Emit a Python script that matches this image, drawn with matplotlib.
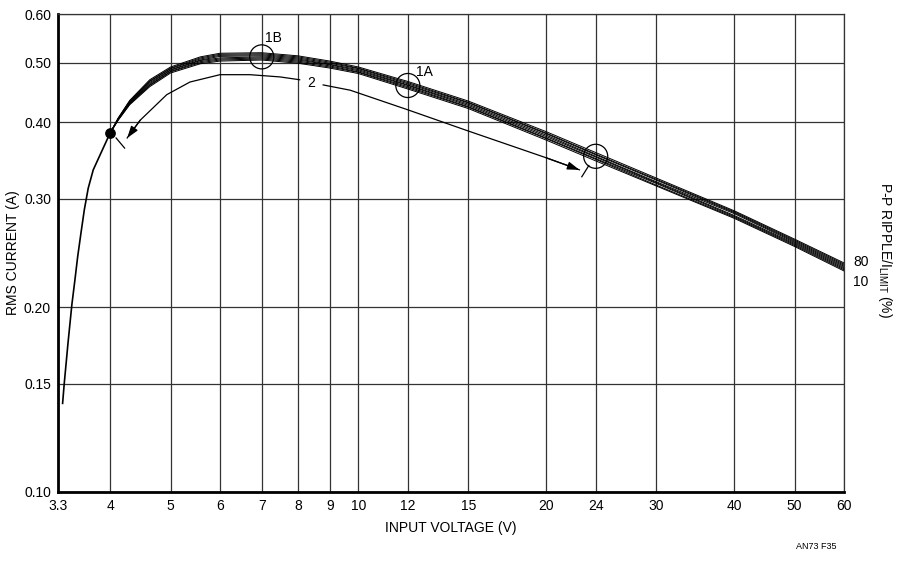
import matplotlib
matplotlib.use("Agg")
import matplotlib.pyplot as plt
from matplotlib.ticker import FixedLocator, NullLocator, FixedFormatter

plt.rcParams['font.family'] = ['Liberation Sans', 'DejaVu Sans']
plt.rcParams['mathtext.fontset'] = 'custom'
plt.rcParams['font.size'] = 10

# shared part of all curves (below 4V)
x_low = [3.357, 3.377, 3.425, 3.474, 3.513, 3.549, 3.592, 3.637, 3.69, 3.759, 3.88, 4.0]
y_low = [0.1394, 0.150, 0.175, 0.202, 0.2214, 0.2416, 0.2638, 0.288, 0.3124, 0.3346, 0.359, 0.384]

# ripple bundle, 80% (top) down to 10% (bottom)
x_bundle = [4.0, 4.12, 4.3, 4.63, 5, 5.58, 6, 7, 8, 9, 10, 12, 15, 20, 24, 30, 40, 50, 60]
ripple_curves = [
    [0.384, 0.406, 0.434, 0.469, 0.492, 0.511, 0.518, 0.519, 0.513, 0.503, 0.492, 0.466, 0.433, 0.386, 0.357, 0.3245, 0.287, 0.258, 0.236],
    [0.384, 0.406, 0.433, 0.467, 0.490, 0.509, 0.516, 0.517, 0.511, 0.501, 0.490, 0.464, 0.431, 0.384, 0.355, 0.323, 0.286, 0.257, 0.235],
    [0.384, 0.405, 0.432, 0.466, 0.489, 0.507, 0.514, 0.515, 0.509, 0.499, 0.489, 0.462, 0.430, 0.383, 0.354, 0.322, 0.285, 0.256, 0.234],
    [0.384, 0.405, 0.431, 0.464, 0.487, 0.505, 0.512, 0.513, 0.507, 0.497, 0.487, 0.460, 0.428, 0.381, 0.352, 0.320, 0.284, 0.255, 0.233],
    [0.384, 0.404, 0.430, 0.462, 0.486, 0.504, 0.509, 0.511, 0.505, 0.496, 0.485, 0.459, 0.426, 0.379, 0.351, 0.319, 0.282, 0.254, 0.232],
    [0.384, 0.404, 0.429, 0.460, 0.484, 0.502, 0.507, 0.509, 0.503, 0.494, 0.483, 0.457, 0.424, 0.377, 0.349, 0.318, 0.281, 0.253, 0.231],
    [0.384, 0.403, 0.428, 0.459, 0.483, 0.500, 0.505, 0.507, 0.501, 0.492, 0.482, 0.455, 0.423, 0.376, 0.348, 0.316, 0.280, 0.252, 0.230],
    [0.384, 0.403, 0.427, 0.457, 0.481, 0.498, 0.503, 0.505, 0.499, 0.490, 0.480, 0.453, 0.421, 0.374, 0.346, 0.315, 0.279, 0.251, 0.229],
]

# dimension curve "2" (two halves around the label)
x_dim_left = [4.26, 4.47, 4.93, 5.37, 6.0, 6.7, 7.49, 8.05]
y_dim_left = [0.377, 0.403, 0.4435, 0.465, 0.478, 0.478, 0.474, 0.469]
x_dim_right = [8.78, 9.7, 12, 15, 20, 22.6]
y_dim_right = [0.460, 0.451, 0.419, 0.387, 0.350, 0.3346]
tick_left = ([4.09, 4.22], [0.377, 0.363])
tick_right = ([22.8, 23.4], [0.326, 0.340])

# marked points
circle_x = [7, 12, 24]
circle_y = [0.511, 0.459, 0.352]
circle_labels = ['1B', '1A']
dot_x, dot_y = 4.0, 0.384

x_ticks = [3.3, 4, 5, 6, 7, 8, 9, 10, 12, 15, 20, 24, 30, 40, 50, 60]
x_ticklabels = ['3.3', '4', '5', '6', '7', '8', '9', '10', '12', '15', '20', '24', '30', '40', '50', '60']
y_ticks = [0.10, 0.15, 0.20, 0.30, 0.40, 0.50, 0.60]
y_ticklabels = ['0.10', '0.15', '0.20', '0.30', '0.40', '0.50', '0.60']

fig = plt.figure(figsize=(9, 5.62), dpi=100)
ax = fig.add_axes([0.0644, 0.1246, 0.8734, 0.8504])
ax.set_xscale('log')
ax.set_yscale('log')
ax.set_xlim(3.3, 60)
ax.set_ylim(0.10, 0.60)

ax.xaxis.set_major_locator(FixedLocator(x_ticks))
ax.xaxis.set_major_formatter(FixedFormatter(x_ticklabels))
ax.xaxis.set_minor_locator(NullLocator())
ax.yaxis.set_major_locator(FixedLocator(y_ticks))
ax.yaxis.set_major_formatter(FixedFormatter(y_ticklabels))
ax.yaxis.set_minor_locator(NullLocator())
ax.tick_params(length=0, pad=5, labelsize=10)
ax.grid(True, color='#333333', linewidth=0.9)

for side in ['left', 'bottom']:
    ax.spines[side].set_linewidth(2.0)
for side in ['right', 'top']:
    ax.spines[side].set_linewidth(0.9)
    ax.spines[side].set_color('#333333')

ax.plot(x_low, y_low, color='black', linewidth=1.2, zorder=3)
for yc in ripple_curves:
    ax.plot(x_bundle, yc, color='black', linewidth=0.7, zorder=3)

# dimension line with arrows
ax.plot(x_dim_left, y_dim_left, color='black', linewidth=0.9)
ax.plot(x_dim_right, y_dim_right, color='black', linewidth=0.9)
ax.annotate('', xy=(x_dim_left[0], y_dim_left[0]), xytext=(x_dim_left[1], y_dim_left[1]),
            arrowprops=dict(arrowstyle='-|>,head_length=0.6,head_width=0.2', color='black', lw=0.9,
                            mutation_scale=12, shrinkA=0, shrinkB=0))
ax.annotate('', xy=(x_dim_right[-1], y_dim_right[-1]), xytext=(x_dim_right[-2], y_dim_right[-2]),
            arrowprops=dict(arrowstyle='-|>,head_length=0.6,head_width=0.2', color='black', lw=0.9,
                            mutation_scale=12, shrinkA=0, shrinkB=0))
ax.plot(*tick_left, color='black', linewidth=0.9)
ax.plot(*tick_right, color='black', linewidth=0.9)
ax.text(8.4, 0.463, '2', ha='center', va='center', fontsize=10)

ax.scatter(circle_x, circle_y, s=300, facecolors='none', edgecolors='black', linewidths=0.9, zorder=4)
ax.scatter([dot_x], [dot_y], s=45, color='black', zorder=5)
ax.text(7.3, 0.548, circle_labels[0], ha='center', va='center', fontsize=10)
ax.text(12.75, 0.482, circle_labels[1], ha='center', va='center', fontsize=10)

ax.set_xlabel('INPUT VOLTAGE (V)', fontsize=10, labelpad=6)
ax.set_ylabel('RMS CURRENT (A)', fontsize=10, labelpad=3)

fig.text(0.948, 0.533, '80', ha='left', va='center', fontsize=10)
fig.text(0.948, 0.499, '10', ha='left', va='center', fontsize=10)
fig.text(0.983, 0.555, 'P-P RIPPLE/I$_{\\mathregular{LIMIT}}$ (%)', rotation=-90,
         ha='center', va='center', fontsize=10)
fig.text(0.93, 0.02, 'AN73 F35', ha='right', va='bottom', fontsize=6.5)

fig.savefig('out.png', dpi=100)
